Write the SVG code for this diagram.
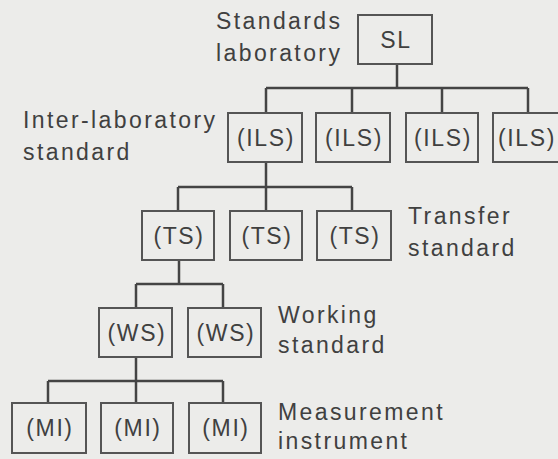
<svg xmlns="http://www.w3.org/2000/svg" width="558" height="459" viewBox="0 0 558 459">
<style>
.bg{fill:#ececea}
.box{fill:none;stroke:#555;stroke-width:2}
.ln{fill:none;stroke:#444;stroke-width:2.5}
text{font-family:"Liberation Sans",Arial,sans-serif;font-size:23px;fill:#404040;letter-spacing:2.4px}
.c{text-anchor:middle;letter-spacing:1.6px}
</style>
<rect class="bg" x="0" y="0" width="558" height="459"/>
<g id="connectors">
<path class="ln" d="M397 64V88M266 88H528M266 88V113M352 88V113M442 88V113M528 88V113"/>
<path class="ln" d="M266 162V187M178 187H352M178 187V211M266 187V211M352 187V211"/>
<path class="ln" d="M179 260V284M136 284H223M136 284V308M223 284V308"/>
<path class="ln" d="M136 357V381M48 381H223M48 381V403M136 381V403M223 381V403"/>
</g>
<g id="SL"><rect class="box" x="358" y="15" width="74" height="49"/><text class="c" x="396" y="48">SL</text></g>
<g id="ILS1"><rect class="box" x="228" y="113" width="74" height="49"/><text class="c" x="266" y="146">(ILS)</text></g>
<g id="ILS2"><rect class="box" x="316" y="113" width="74" height="49"/><text class="c" x="354" y="146">(ILS)</text></g>
<g id="ILS3"><rect class="box" x="406" y="113" width="72" height="49"/><text class="c" x="443" y="146">(ILS)</text></g>
<g id="ILS4"><rect class="box" x="493" y="113" width="74" height="49"/><text class="c" x="527" y="146">(ILS)</text></g>
<g id="TS1"><rect class="box" x="142" y="211" width="72" height="49"/><text class="c" x="179" y="244">(TS)</text></g>
<g id="TS2"><rect class="box" x="230" y="211" width="72" height="49"/><text class="c" x="267" y="244">(TS)</text></g>
<g id="TS3"><rect class="box" x="317" y="211" width="74" height="49"/><text class="c" x="355" y="244">(TS)</text></g>
<g id="WS1"><rect class="box" x="99" y="308" width="73" height="49"/><text class="c" x="137" y="341">(WS)</text></g>
<g id="WS2"><rect class="box" x="188" y="308" width="73" height="49"/><text class="c" x="226" y="341">(WS)</text></g>
<g id="MI1"><rect class="box" x="12" y="403" width="74" height="50"/><text class="c" x="50" y="436">(MI)</text></g>
<g id="MI2"><rect class="box" x="101" y="403" width="72" height="50"/><text class="c" x="138" y="436">(MI)</text></g>
<g id="MI3"><rect class="box" x="189" y="403" width="72" height="50"/><text class="c" x="226" y="436">(MI)</text></g>
<g id="labels">
<text x="216" y="29">Standards</text>
<text x="216" y="61">laboratory</text>
<text x="23" y="128">Inter-laboratory</text>
<text x="23" y="160">standard</text>
<text x="408" y="224">Transfer</text>
<text x="408" y="256">standard</text>
<text x="278" y="323">Working</text>
<text x="278" y="353">standard</text>
<text x="278" y="420">Measurement</text>
<text x="278" y="449">instrument</text>
</g>
</svg>
